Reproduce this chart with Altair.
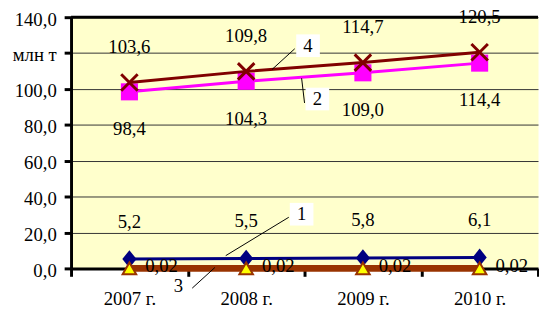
import altair as alt
import pandas as pd

years = ["2007 г.", "2008 г.", "2009 г.", "2010 г."]
s1 = [5.2, 5.5, 5.8, 6.1]
s2 = [98.4, 104.3, 109.0, 114.4]
s3 = [0.02, 0.02, 0.02, 0.02]
s4 = [103.6, 109.8, 114.7, 120.5]
y_ticks = [0, 20, 40, 60, 80, 100, 120, 140]

# callout annotations (x in category units 0..4, y in data units)
ann_text = ["4", "2", "1", "3"]
ann_tx = [2.03, 2.11, 1.975, 0.92]
ann_ty = [124.1, 94.4, 30.2, -9.9]
ann_box = [True, True, True, False]
lead_u = [1.916, 1.975, 1.865, 1.038]
lead_v = [122.4, 106.0, 28.5, -11.0]
lead_u2 = [1.722, 2.0, 1.325, 1.232]
lead_v2 = [110.9, 92.2, 7.1, 0.5]

FONT = "Times New Roman"
FS = 19


def fmt(v, d):
    return f"{v:.{d}f}".replace(".", ",")


def frame(vals, d):
    return pd.DataFrame({"year": years, "v": vals, "lab": [fmt(v, d) for v in vals]})


xaxis = alt.Axis(title=None, tickBand="extent", ticks=True, tickSize=8, tickWidth=3,
                 tickColor="black", domainColor="black", domainWidth=3,
                 labelFont=FONT, labelFontSize=FS, labelColor="black", labelPadding=14,
                 labelAngle=0, grid=False)
X = alt.X("year:N", sort=years, axis=xaxis,
          scale=alt.Scale(type="band", paddingInner=0, paddingOuter=0))

yaxis = alt.Axis(title=None, values=y_ticks,
                 labelExpr="datum.value == 120 ? 'млн т' : replace(format(datum.value, '.1f'), '.', ',')",
                 grid=True, gridColor="#333333", gridWidth=1,
                 domainColor="black", domainWidth=3, tickColor="black", tickSize=7, tickWidth=3,
                 labelFont=FONT, labelFontSize=FS, labelColor="black", labelPadding=8, labelOffset=2)
Y = alt.Y("v:Q", scale=alt.Scale(domain=[0, 140], nice=False, zero=False), axis=yaxis)


def series(vals, d, color, width, point_kw, label_kw):
    base = alt.Chart(frame(vals, d)).encode(x=X, y=Y)
    line = base.mark_line(color=color, strokeWidth=width)
    pts = base.mark_point(**point_kw)
    lab = base.mark_text(font=FONT, fontSize=FS, fill="black", **label_kw).encode(text="lab:N")
    return [line, pts, lab]


l1 = series(s1, 1, "#000080", 3,
            dict(shape="M-0.8,0L0,-1L0.8,0L0,1Z", size=324, filled=True, color="#000080", opacity=1),
            dict(dy=-38, baseline="middle", align="center"))
l2 = series(s2, 1, "#FF00FF", 3,
            dict(shape="square", size=300, filled=True, color="#FF00FF", opacity=1),
            dict(dy=38, baseline="middle", align="center"))
l3 = series(s3, 2, "#993300", 7,
            dict(shape="triangle-up", size=190, filled=True, fill="#FFFF00", stroke="#993300",
                 strokeWidth=2, opacity=1),
            dict(dx=16, dy=-2, baseline="middle", align="left"))
l4 = series(s4, 1, "#800000", 3,
            dict(shape="M-1,-1L1,1M1,-1L-1,1", size=280, filled=False, color="#800000",
                 strokeWidth=3, opacity=1),
            dict(dy=-36, baseline="middle", align="center"))

top_rule = alt.Chart(pd.DataFrame({"v": [140]})).mark_rule(color="black", strokeWidth=3).encode(y=Y)

main = alt.layer(*(l1[:2] + l2[:2] + l3[:2] + l4[:2]), top_rule,
                 *(l1[2:] + l2[2:] + l3[2:] + l4[2:]))

ann_df = pd.DataFrame({"u": ann_tx, "v": ann_ty, "lab": ann_text, "box": ann_box})
lead_df = pd.DataFrame({"u": lead_u, "v": lead_v, "u2": lead_u2, "v2": lead_v2})
XA = alt.X("u:Q", scale=alt.Scale(domain=[0, 4], nice=False, zero=False), axis=None)

leads = alt.Chart(lead_df).mark_rule(color="black", strokeWidth=1).encode(
    x=XA, y=Y, x2="u2:Q", y2="v2:Q")
boxes = alt.Chart(ann_df).transform_filter("datum.box").mark_rect(
    fill="white", width=24, height=23).encode(x=XA, y=Y)
anns = alt.Chart(ann_df).mark_text(font=FONT, fontSize=FS, fill="black",
                                   baseline="middle", align="center").encode(
    x=XA, y=Y, text="lab:N")
annot = alt.layer(leads, boxes, anns)

chart = alt.layer(main, annot).resolve_scale(x="independent").properties(
    width=474, height=255,
    autosize=alt.AutoSizeParams(type="none"),
    padding={"left": 64, "top": 7, "right": 1, "bottom": 48},
).configure(font=FONT).configure_view(fill="#FFFFCC", stroke="transparent")

chart.save("out.html", embed_options={"renderer": "svg", "actions": False})
